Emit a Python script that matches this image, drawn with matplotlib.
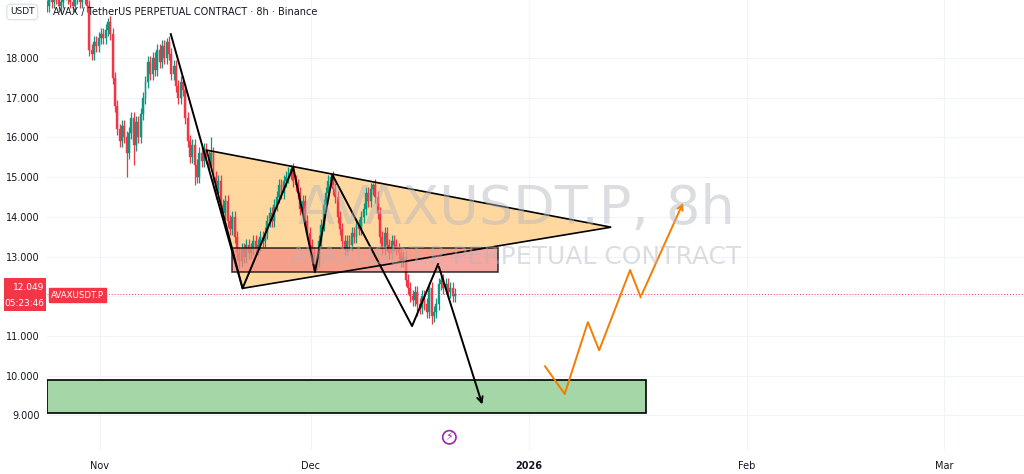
import matplotlib
matplotlib.use("Agg")
import matplotlib.pyplot as plt
from matplotlib.patches import Polygon, Rectangle

# ---- data (8h candles, x in days since Nov 1 2025) ----
start_day = -7.5
closes = [19.3,19.5,19.4,19.6,19.5,19.3,19.4,19.6,19.7,19.5,19.4,19.3,19.5,19.6,19.4,19.5,19.6,19.3,
          18.2,18.1,18.4,18.3,18.5,18.6,18.5,18.7,18.9,18.6,
          17.5,16.8,16.2,
          15.9,16.3,16.0,15.6,16.1,16.5,15.8,16.4,16.0,16.6,
          17.0,17.4,17.9,17.6,18.0,17.7,
          18.2,17.9,18.3,18.0,18.4,18.1,
          17.6,17.8,17.3,17.0,17.4,17.2,
          16.5,15.9,15.5,15.8,15.3,
          15.0,15.6,15.4,15.7,15.5,15.3,15.6,
          15.0,14.6,14.9,14.3,14.1,14.4,13.9,13.7,14.0,13.5,13.1,12.9,
          13.2,13.0,13.3,13.1,13.2,13.4,13.2,13.3,13.5,13.4,13.6,
          13.9,14.1,13.9,14.3,14.5,14.8,14.6,14.9,15.0,15.1,15.2,
          14.9,14.8,14.6,14.2,14.4,13.9,13.6,13.3,13.1,12.8,12.9,
          13.4,13.8,14.3,14.6,14.9,15.0,
          14.7,14.5,14.0,13.7,13.4,13.2,
          13.4,13.3,13.6,13.5,13.8,13.7,14.0,14.2,14.6,14.4,14.7,14.8,14.5,
          14.1,13.5,13.2,13.6,13.3,13.1,13.4,
          13.3,13.2,13.1,12.9,13.0,
          12.4,12.2,12.0,11.9,12.1,11.8,
          11.7,12.0,11.8,11.6,12.2,11.5,
          11.6,11.8,12.3,
          12.4,12.2,12.3,12.1,12.2,12.0,12.049]
wick = 0.15
wick_overrides_low = {34: 15.0, 37: 15.3, 63: 14.8, 82: 12.7, 114: 12.6, 164: 11.3, 158: 11.5}
wick_overrides_high = {26: 19.0, 51: 18.5, 70: 16.0, 104: 15.3, 121: 15.1, 139: 14.85}
last_price = 12.049

# drawings: (day, price)
triangle = [(15.2, 15.68), (72.7, 13.74), (20.3, 12.2)]
red_zone = (18.8, 56.6, 12.61, 13.21)
green_zone = (-7.5, 77.7, 9.06, 9.89)
zigzag = [(10.1, 18.6), (20.3, 12.2), (27.5, 15.25), (30.6, 12.61), (33.1, 15.05),
          (44.4, 11.25), (48.1, 12.81), (54.5, 9.21)]
orange_path = [(63.3, 10.24), (66.1, 9.54), (69.4, 11.35), (71.0, 10.64),
               (75.4, 12.66), (76.9, 11.98), (83.1, 14.42)]
yticks = [9, 10, 11, 12, 13, 14, 15, 16, 17, 18]
xtick_pos = [0, 30, 61, 92, 120]
xtick_lab = ["Nov", "Dec", "2026", "Feb", "Mar"]

GREEN = "#089981"; RED = "#f23645"

fig = plt.figure(figsize=(10.24, 4.74), dpi=100)
ax = fig.add_axes([47/1024, 24/474, 977/1024, 450/474])
ax.set_xlim(-7.5, 131.4)
ax.set_ylim(8.13, 19.46)

ax.add_patch(Polygon(triangle, closed=True, facecolor="#ffcc80", alpha=0.75,
                     edgecolor="none", zorder=1.5))
ax.add_patch(Polygon(triangle, closed=True, facecolor="none",
                     edgecolor="black", lw=1.2, zorder=4))

opens = [closes[0]] + closes[:-1]
for i, c in enumerate(closes):
    o = opens[i]
    x = start_day + i / 3
    col = GREEN if c >= o else RED
    hi = wick_overrides_high.get(i, max(o, c) + wick)
    lo = wick_overrides_low.get(i, min(o, c) - wick)
    ax.vlines(x, lo, hi, color=col, lw=0.9, zorder=2)
    ax.bar(x, max(abs(c - o), 0.03), bottom=min(o, c), width=0.27, color=col,
           edgecolor=col, lw=0.3, zorder=2)

x0, x1, y0, y1 = red_zone
ax.add_patch(Rectangle((x0, y0), x1 - x0, y1 - y0, facecolor="#f28b82", alpha=0.75,
                       edgecolor="black", lw=1.2, zorder=3))
x0, x1, y0, y1 = green_zone
ax.add_patch(Rectangle((x0, y0), x1 - x0, y1 - y0, facecolor="#a5d6a7",
                       edgecolor="black", lw=1.2, zorder=3))

zx, zy = zip(*zigzag)
ax.plot(zx[:-1], zy[:-1], color="black", lw=1.4, zorder=4)
ax.annotate("", xy=zigzag[-1], xytext=zigzag[-2],
            arrowprops=dict(arrowstyle="->", color="black", lw=1.4), zorder=4)
ox, oy = zip(*orange_path)
ax.plot(ox[:-1], oy[:-1], color="#f57c00", lw=1.4, zorder=4)
ax.annotate("", xy=orange_path[-1], xytext=orange_path[-2],
            arrowprops=dict(arrowstyle="->", color="#f57c00", lw=1.4), zorder=4)

# watermark
ax.text(0.48, 0.535, "AVAXUSDT.P, 8h", transform=ax.transAxes, fontsize=39,
        color="#b2b5be", alpha=0.45, ha="center", va="center", zorder=5)
ax.text(0.48, 0.43, "AVAXUSDT.P PERPETUAL CONTRACT", transform=ax.transAxes, fontsize=18,
        color="#b2b5be", alpha=0.45, ha="center", va="center", zorder=5)

ax.axhline(last_price, color=RED, lw=0.7, ls=(0, (1, 2)), zorder=1)

for s in ax.spines.values():
    s.set_visible(False)
ax.set_yticks(yticks)
# the 12.000 label is covered by the live price label
ax.set_yticklabels(["" if v == 12 else f"{v:.3f}" for v in yticks], fontsize=7, color="#131722")
ax.tick_params(axis="y", length=0, pad=5)
ax.set_xticks(xtick_pos)
ax.set_xticklabels(xtick_lab, fontsize=7, color="#131722")
ax.get_xticklabels()[2].set_fontweight("bold")
ax.tick_params(axis="x", length=0, pad=8)
ax.grid(True, color="#f0f3fa", lw=0.8, zorder=0)
ax.set_axisbelow(True)

# price label
fig.patches.append(Rectangle((4/1024, 1 - 311/474), 42/1024, 33/474, transform=fig.transFigure,
                             fc=RED, ec="none"))
fig.text(44/1024, 1 - 287/474, "12.049", fontsize=6.5, color="white", va="center", ha="right")
fig.text(44/1024, 1 - 304/474, "05:23:46", fontsize=6.5, color="white", va="center", ha="right")
fig.text(51/1024, 1 - 295/474, "AVAXUSDT.P", fontsize=6.2, color="white", va="center",
         ha="left", bbox=dict(boxstyle="square,pad=0.25", fc=RED, ec=RED))
fig.text(53/1024, 1 - 12/474, "AVAX / TetherUS PERPETUAL CONTRACT · 8h · Binance",
         fontsize=7, color="#131722", va="center", ha="left")
fig.text(10/1024, 1 - 12/474, "USDT", fontsize=6.5, color="#131722", va="center", ha="left",
         bbox=dict(boxstyle="round,pad=0.35", fc="white", ec="#e0e3eb"))
ax.text(49.7, 8.45, "⚡", fontsize=8, color="#9c27b0", ha="center", va="center",
        bbox=dict(boxstyle="circle,pad=0.15", fc="white", ec="#9c27b0", lw=1.2))

fig.savefig("out.png", dpi=100)
